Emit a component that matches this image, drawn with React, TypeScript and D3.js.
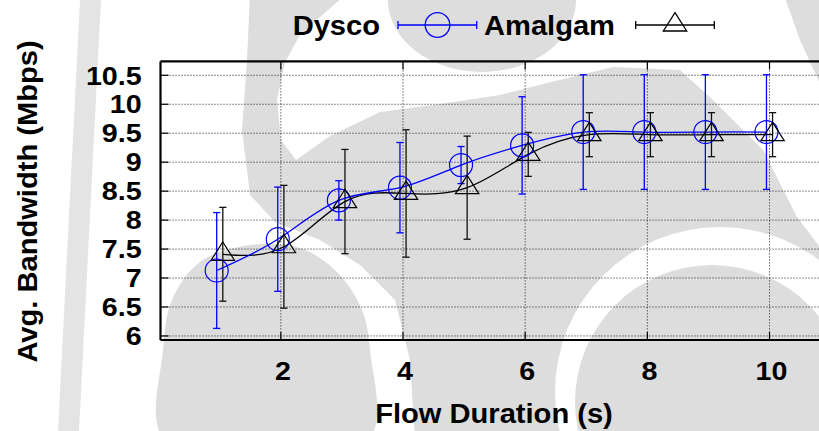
import React from "react";
import * as d3 from "d3";

// ---- data ----
const durations = [1, 2, 3, 4, 5, 6, 7, 8, 9, 10];
const dyscoMean = [7.13, 7.67, 8.34, 8.56, 8.95, 9.29, 9.52, 9.52, 9.52, 9.52];
const dyscoErr = [1.0, 0.9, 0.34, 0.78, 0.32, 0.84, 0.99, 0.99, 0.99, 0.99];
const amalgamMean = [7.41, 7.54, 8.32, 8.46, 8.56, 9.135, 9.475, 9.475, 9.475, 9.475];
const amalgamErr = [0.81, 1.06, 0.9, 1.1, 0.89, 0.38, 0.38, 0.38, 0.38, 0.38];
const xTicks = [2, 4, 6, 8, 10];
const yTicks = [6, 6.5, 7, 7.5, 8, 8.5, 9, 9.5, 10, 10.5];
const seriesNames = ["Dysco", "Amalgam"];

const W = 819;
const H = 431;
const FONT = "'Liberation Sans', Arial, Helvetica, sans-serif";
const BLUE = "#0000ff";
const GREY = "#dddddd";

// watermark outline points (decorative background)
const wmCentral: [number, number][] = [
  [250, -5], [345, -5], [300, 35], [285, 62], [277, 100], [281, 140], [296, 160],
  [330, 136], [380, 112], [440, 104], [500, 95], [547, 83], [613, 67], [680, 70],
  [713, 100], [763, 150], [797, 217], [830, 260], [830, 440], [415, 440], [410, 360],
  [395, 300], [360, 265], [320, 240], [275, 222], [250, 195], [242, 130], [247, 60],
];
const wmDisk: [number, number][] = [
  [165, 440], [163, 350], [172, 300], [200, 262], [250, 245], [300, 248], [337, 272],
  [362, 310], [370, 350], [368, 440],
];

export default function App() {
  const x = d3.scaleLinear().domain([0.03, 11]).range([160.5, 830.6]);
  const y = d3.scaleLinear().domain([5.93, 10.74]).range([340, 61.4]);
  const left = x(0.03);
  const top = y(10.74);
  const bottom = y(5.93);
  const right = 830;

  const off = 0.05;
  const dys = durations.map((d, i) => ({ x: d - off, v: dyscoMean[i], e: dyscoErr[i] }));
  const ama = durations.map((d, i) => ({ x: d + off, v: amalgamMean[i], e: amalgamErr[i] }));

  const line = d3
    .line<{ x: number; v: number }>()
    .x((d) => x(d.x))
    .y((d) => y(d.v))
    .curve(d3.curveNatural);

  const closed = d3.line().curve(d3.curveCatmullRomClosed.alpha(0.5));
  const straight = d3.line().curve(d3.curveLinearClosed);

  const tri = (cx: number, cy: number) =>
    `M${cx},${cy - 12.3} L${cx + 11.7},${cy + 6} L${cx - 11.7},${cy + 6} Z`;

  const cap = 3.6;

  const stretchText = (
    txt: string,
    tx: number,
    ty: number,
    size: number,
    anchor: string,
    sx: number,
    rot = 0
  ) => (
    <text
      transform={`translate(${tx},${ty}) rotate(${rot}) scale(${sx},1)`}
      textAnchor={anchor as any}
      fontFamily={FONT}
      fontWeight="bold"
      fontSize={size}
      fill="#000"
    >
      {txt}
    </text>
  );

  return (
    <svg
      width={W}
      height={H}
      style={{ position: "absolute", left: 0, top: 0, background: "#fff" }}
    >
      {/* watermark */}
      <g fill={GREY} stroke="none">
        <path d={straight([[80, 0], [101, 0], [79, 431], [58, 431]]) || ""} fill="#e4e4e4" />
        <path d={straight(wmCentral) || ""} />
        <ellipse cx={482} cy={0} rx={94} ry={72} />
        <path d={straight([[785, -2], [825, -2], [825, 95], [800, 40]]) || ""} />
        <circle cx={720} cy={392} r={165} fill="#ffffff" />
        <circle cx={712} cy={402} r={137} />
        <path d={closed(wmDisk) || ""} />
      </g>

      {/* grid */}
      <g stroke="#000" strokeWidth={0.9} strokeDasharray="1,2" fill="none">
        {yTicks.map((t) => (
          <line key={"gy" + t} x1={left} x2={right} y1={y(t)} y2={y(t)} />
        ))}
        {xTicks.map((t) => (
          <line key={"gx" + t} x1={x(t)} x2={x(t)} y1={top} y2={bottom} />
        ))}
      </g>

      {/* ticks */}
      <g stroke="#000" strokeWidth={1.2}>
        {xTicks.map((t) => (
          <g key={"tx" + t}>
            <line x1={x(t)} x2={x(t)} y1={bottom} y2={bottom - 8} />
            <line x1={x(t)} x2={x(t)} y1={top} y2={top + 8} />
          </g>
        ))}
        {yTicks.map((t) => (
          <line key={"ty" + t} x1={left} x2={left + 8} y1={y(t)} y2={y(t)} />
        ))}
      </g>

      {/* border */}
      <g stroke="#000" strokeWidth={2.2} fill="none">
        <line x1={left} x2={right} y1={top} y2={top} />
        <line x1={left} x2={right} y1={bottom} y2={bottom} />
        <line x1={left} x2={left} y1={top} y2={bottom} />
      </g>

      {/* error bars */}
      <g stroke={BLUE} strokeWidth={1.3}>
        {dys.map((d, i) => (
          <g key={"eb" + i}>
            <line x1={x(d.x)} x2={x(d.x)} y1={y(d.v - d.e)} y2={y(d.v + d.e)} />
            <line x1={x(d.x) - cap} x2={x(d.x) + cap} y1={y(d.v - d.e)} y2={y(d.v - d.e)} />
            <line x1={x(d.x) - cap} x2={x(d.x) + cap} y1={y(d.v + d.e)} y2={y(d.v + d.e)} />
          </g>
        ))}
      </g>
      <g stroke="#111" strokeWidth={1.3}>
        {ama.map((d, i) => (
          <g key={"ea" + i}>
            <line x1={x(d.x)} x2={x(d.x)} y1={y(d.v - d.e)} y2={y(d.v + d.e)} />
            <line x1={x(d.x) - cap} x2={x(d.x) + cap} y1={y(d.v - d.e)} y2={y(d.v - d.e)} />
            <line x1={x(d.x) - cap} x2={x(d.x) + cap} y1={y(d.v + d.e)} y2={y(d.v + d.e)} />
          </g>
        ))}
      </g>

      {/* lines */}
      <path d={line(ama) || ""} fill="none" stroke="#000" strokeWidth={1.3} />
      <path d={line(dys) || ""} fill="none" stroke={BLUE} strokeWidth={1.3} />

      {/* markers */}
      <g fill="none" stroke={BLUE} strokeWidth={1.2}>
        {dys.map((d, i) => (
          <circle key={"c" + i} cx={x(d.x)} cy={y(d.v)} r={11.5} />
        ))}
      </g>
      <g fill="none" stroke="#000" strokeWidth={1.2}>
        {ama.map((d, i) => (
          <path key={"t" + i} d={tri(x(d.x), y(d.v))} />
        ))}
      </g>

      {/* tick labels */}
      {yTicks.map((t) => (
        <g key={"ly" + t}>{stretchText(String(t), 141.7, y(t) + 9.2, 25.6, "end", 1.12)}</g>
      ))}
      {xTicks.map((t) => (
        <g key={"lx" + t}>{stretchText(String(t), x(t) + 2, 380, 25.6, "middle", 1.12)}</g>
      ))}

      {/* axis titles */}
      {stretchText("Flow Duration (s)", 494, 423, 28, "middle", 1.04)}
      {stretchText("Avg. Bandwidth (Mbps)", 36.7, 201.5, 28, "middle", 1.04, -90)}

      {/* legend */}
      {stretchText(seriesNames[0], 380, 35, 28, "end", 1.04)}
      <g stroke={BLUE} strokeWidth={1.3} fill="none">
        <line x1={398} x2={476.7} y1={25} y2={25} />
        <line x1={398} x2={398} y1={21} y2={29} />
        <line x1={476.7} x2={476.7} y1={21} y2={29} />
        <circle cx={437.5} cy={25} r={12.3} />
      </g>
      {stretchText(seriesNames[1], 615, 35, 28, "end", 1.04)}
      <g stroke="#000" strokeWidth={1.3} fill="none">
        <line x1={635.7} x2={714.3} y1={25} y2={25} />
        <line x1={635.7} x2={635.7} y1={21} y2={29} />
        <line x1={714.3} x2={714.3} y1={21} y2={29} />
        <path d={tri(675, 25)} />
      </g>
    </svg>
  );
}
